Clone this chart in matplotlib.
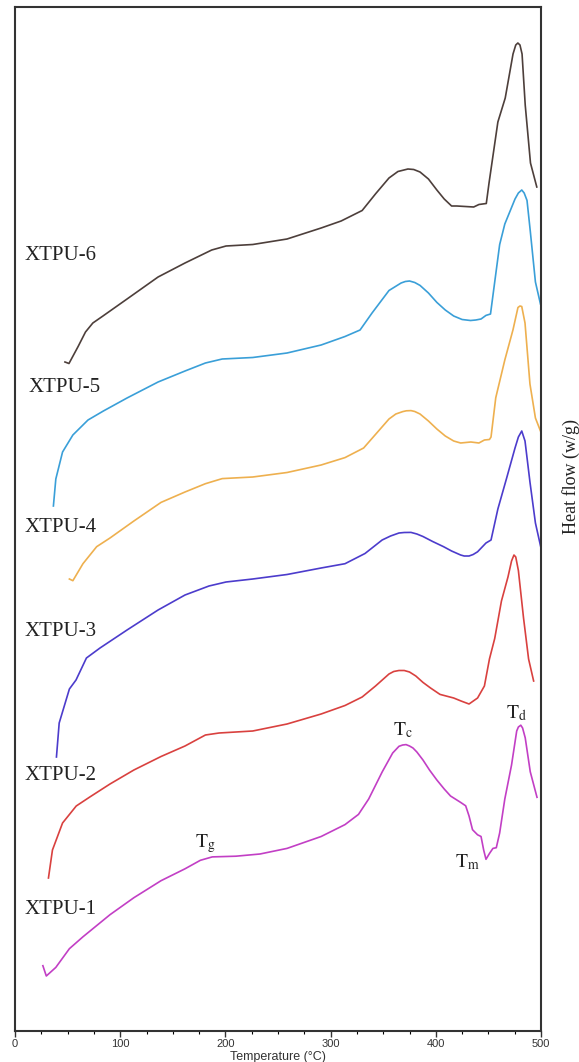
import matplotlib
matplotlib.use("Agg")
import matplotlib.pyplot as plt
from matplotlib.ticker import MultipleLocator

# temperature (°C) and heat flow (arbitrary, stacked) for each sample
t6 = [47.5, 51.3, 60, 67, 74, 83.6, 106.5, 136, 161.6, 187, 200.6, 226, 258.6, 291, 310, 330, 343,
      355.5, 364, 373.5, 379, 385, 393, 401, 408, 415, 420, 436, 441, 448, 450.6, 459, 466, 473.4, 476,
      478, 480, 482, 485, 490, 496]
y6 = [66.9, 66.75, 68.45, 69.9, 70.8, 71.5, 73.2, 75.4, 76.8, 78.1, 78.5, 78.65, 79.2, 80.3, 81.0, 82.05, 83.75,
      85.3, 85.95, 86.2, 86.15, 85.9, 85.2, 84.1, 83.2, 82.5, 82.5, 82.4, 82.65, 82.75, 84.8, 90.9, 93.3, 97.7, 98.6,
      98.8, 98.6, 97.7, 92.6, 86.8, 84.4]

t5 = [36.5, 38.8, 45.2, 55, 69.4, 84, 106.5, 136, 161.6, 181, 197, 226, 258.6, 291, 313.7, 328, 339.4,
      355.5, 367, 371, 375, 380, 385, 393, 401, 409, 417, 425, 433, 438, 443, 447.7, 452, 456, 460.7, 465.6,
      475.3, 478.5, 481.7, 484, 486.7, 489.8, 494.7, 499.5]
y5 = [52.5, 55.2, 57.9, 59.6, 61.1, 62.0, 63.3, 64.9, 66.0, 66.8, 67.2, 67.35, 67.8, 68.6, 69.45, 70.1, 71.8,
      74.05, 74.8, 74.95, 75.0, 74.85, 74.56, 73.8, 72.86, 72.1, 71.5, 71.15, 71.05, 71.1, 71.2, 71.56, 71.7, 74.9,
      78.64, 80.7, 83.2, 83.8, 84.1, 83.8, 83.06, 80.0, 74.9, 72.7]

t4 = [51.7, 55, 64.6, 77.6, 90.3, 113, 138.8, 161.6, 181, 197, 226, 258.6, 291, 313.7, 331.4, 342.7, 355.5,
      362, 368.6, 372, 376.4, 380, 385, 393, 401, 409, 417, 423.6, 433.3, 441, 446.2, 451, 452.5, 457, 465.6,
      473.4, 478.1, 480, 481.7, 484.8, 489.5, 494.7, 499.5]
y4 = [45.2, 45.03, 46.73, 48.43, 49.3, 51.0, 52.86, 53.9, 54.73, 55.24, 55.4, 55.85, 56.6, 57.34, 58.3, 59.66, 61.2,
      61.7, 61.94, 62.02, 62.04, 61.95, 61.7, 61.0, 60.2, 59.5, 59.0, 58.8, 58.9, 58.8, 59.1, 59.15, 59.4, 63.33,
      67.1, 70.13, 72.35, 72.5, 72.45, 70.8, 64.7, 61.3, 60.0]

t3 = [39.4, 42, 51.7, 58, 67.9, 80.8, 106.5, 136, 161.6, 184.4, 200.6, 226, 258.6, 291, 313.7, 332.7, 349,
      357, 365, 370, 376.4, 382, 387.8, 397, 407.4, 415, 423.6, 427, 431.6, 435.5, 439.7, 447.7, 452.5, 459,
      467.2, 475.3, 478.5, 481.7, 484.8, 489.5, 494.7, 500]
y3 = [27.4, 30.8, 34.2, 35.1, 37.3, 38.3, 40.1, 42.1, 43.6, 44.5, 44.9, 45.2, 45.65, 46.3, 46.73, 47.75, 49.1,
      49.5, 49.8, 49.85, 49.86, 49.7, 49.45, 48.95, 48.43, 48.0, 47.6, 47.5, 47.5, 47.65, 47.92, 48.8, 49.1, 52.2,
      55.24, 58.3, 59.4, 60.0, 59.0, 54.9, 50.8, 48.3]

t2 = [31.8, 35.6, 45.2, 58.2, 71.1, 90.3, 113, 138.8, 161.6, 181, 194, 226, 258.6, 291, 313.7, 330, 342.7,
      355.5, 360, 365, 370, 375, 381, 387.8, 395, 404, 417, 424, 431.6, 439.7, 446.2, 451, 456, 462.4, 468.6,
      472, 474.3, 476, 478.5, 483.4, 488.2, 493]
y2 = [15.3, 18.1, 20.8, 22.5, 23.4, 24.7, 26.1, 27.45, 28.5, 29.6, 29.8, 30.0, 30.7, 31.7, 32.55, 33.4, 34.5,
      35.7, 35.95, 36.05, 36.05, 35.9, 35.5, 34.86, 34.3, 33.66, 33.3, 33.0, 32.7, 33.3, 34.5, 37.2, 39.25, 43.0,
      45.4, 47.0, 47.6, 47.4, 46.05, 41.3, 37.2, 35.0]

t1 = [26.5, 29.75, 38.8, 51.7, 64.6, 90.3, 113, 138.8, 161.6, 176.2, 187.5, 210, 232.9, 258.6, 291, 313.7,
      326.5, 336.2, 349.1, 359, 365, 368.5, 371.7, 375, 378.3, 382, 387.8, 394, 401, 408, 414, 423.6, 428.4,
      431.6, 434.9, 439.7, 443, 445.5, 447.7, 451, 454.3, 457.5, 460.7, 465.6, 472, 476.9, 478.5, 480.8, 482.5,
      485, 489.8, 496.2]
y1 = [6.53, 5.5, 6.36, 8.23, 9.42, 11.63, 13.33, 15.03, 16.22, 17.07, 17.41, 17.48, 17.7, 18.26, 19.45, 20.64,
      21.66, 23.2, 25.92, 27.8, 28.47, 28.6, 28.64, 28.5, 28.3, 27.9, 27.1, 26.1, 25.1, 24.2, 23.5, 22.86, 22.52,
      21.5, 20.13, 19.62, 19.45, 18.1, 17.17, 17.75, 18.26, 18.33, 19.8, 23.2, 26.6, 30.0, 30.4, 30.58, 30.3,
      29.32, 25.92, 23.37]

names = ["XTPU-1", "XTPU-2", "XTPU-3", "XTPU-4", "XTPU-5", "XTPU-6"]
name_x = [9.5, 9.5, 9.5, 9.5, 12.9, 9.5]
name_y = [12.2, 25.5, 39.9, 50.3, 64.4, 77.6]

marks = [r"$\mathrm{T_g}$", r"$\mathrm{T_c}$", r"$\mathrm{T_m}$", r"$\mathrm{T_d}$"]
mark_x = [180.6, 368.8, 429.7, 477.0]
mark_y = [18.7, 30.1, 16.9, 31.8]

plt.rcParams["mathtext.fontset"] = "stix"

fig = plt.figure(figsize=(5.79, 10.62), dpi=100)
ax = fig.add_axes([15 / 579, 31 / 1062, 526 / 579, 1024 / 1062])

series = [(t1, y1, "#c23fc5"), (t2, y2, "#d9413f"), (t3, y3, "#4c3ccc"),
          (t4, y4, "#eeb04f"), (t5, y5, "#3a9fd8"), (t6, y6, "#4d3f3b")]
for t, y, c in series:
    ax.plot(t, y, color=c, lw=1.2, solid_joinstyle="round")

for n, x, y in zip(names, name_x, name_y):
    ax.text(x, y, n, fontsize=15, family="Liberation Serif", va="center", ha="left", color="#222222")

for m, x, y in zip(marks, mark_x, mark_y):
    ax.text(x, y, m, fontsize=14, va="center", ha="center", color="#222222")

ax.set_xlim(0, 500)
ax.set_ylim(0, 102.4)
ax.xaxis.set_major_locator(MultipleLocator(100))
ax.xaxis.set_minor_locator(MultipleLocator(25))
ax.set_yticks([])
ax.tick_params(axis="x", which="major", direction="out", length=4, width=1, labelsize=8, pad=2, colors="#333333")
ax.tick_params(axis="x", which="minor", direction="out", length=2.5, width=0.8)
for lab in ax.get_xticklabels():
    lab.set_family("Liberation Sans")
for s in ax.spines.values():
    s.set_linewidth(1.5)
    s.set_color("#333333")
ax.set_xlabel("Temperature (°C)", fontsize=9, family="Liberation Sans", labelpad=1, color="#333333")

fig.text(571 / 579, 1 - 476 / 1062, "Heat flow (w/g)", rotation=90, fontsize=13,
         family="Liberation Serif", va="center", ha="center", color="#222222")

fig.savefig("out.png", dpi=100)
